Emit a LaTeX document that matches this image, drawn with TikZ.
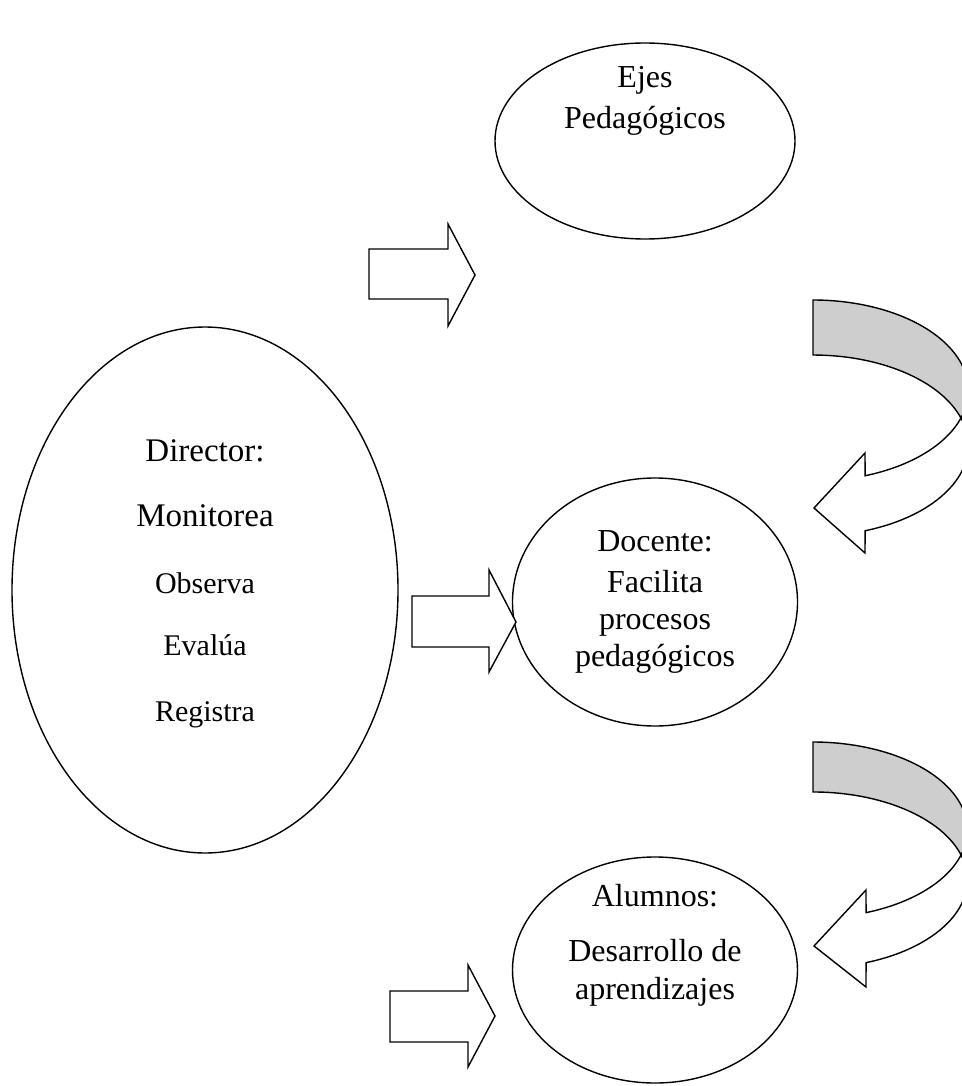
\documentclass[tikz,border=0pt]{standalone}
\usepackage{fontspec}
\setmainfont{Liberation Serif}
\usetikzlibrary{calc,shapes.geometric}
\definecolor{backgray}{RGB}{206,206,206}
\tikzset{
  oval/.style={draw, line width=1.4pt, ellipse, inner sep=0pt},
  blockarrow/.style={draw, line width=1.4pt, fill=white, line join=miter},
  curvback/.style={draw, line width=1.4pt, fill=backgray},
  curvfront/.style={draw, line width=1.4pt, fill=white},
  bigtxt/.style={font=\fontsize{32}{36}\selectfont, inner sep=0pt, anchor=base},
  dirbig/.style={font=\fontsize{33}{38}\selectfont, inner sep=0pt, anchor=base},
  dirsmall/.style={font=\fontsize{30}{34}\selectfont, inner sep=0pt, anchor=base}
}
\begin{document}
\begin{tikzpicture}[x=1pt,y=1pt]
\useasboundingbox (0,0) rectangle (961,-1086);
\fill[white] (0,0) rectangle (961,-1086);

% ellipses
\node[oval, minimum width=300pt, minimum height=196pt] (ejes) at (645,-141) {};
\node[oval, minimum width=386pt, minimum height=526pt] (dir) at (205,-590) {};
\node[oval, minimum width=285pt, minimum height=248pt] (doc) at (655,-602) {};
\node[oval, minimum width=285pt, minimum height=226pt] (alu) at (655,-970) {};

% texts
\node[bigtxt] (t1) at (645,-88) {Ejes};
\node[bigtxt] (t2) at (645,-129) {Pedagógicos};
\node[dirbig] (d1) at (205,-461) {Director:};
\node[dirbig] (d2) at (205,-526) {Monitorea};
\node[dirsmall] (d3) at (205,-593) {Observa};
\node[dirsmall] (d4) at (205,-655) {Evalúa};
\node[dirsmall] (d5) at (205,-721) {Registra};
\node[bigtxt] (c1) at (655,-551) {Docente:};
\node[bigtxt] (c2) at (655,-592) {Facilita};
\node[bigtxt] (c3) at (655,-629) {procesos};
\node[bigtxt] (c4) at (655,-666) {pedagógicos};
\node[bigtxt] (a1) at (655,-906) {Alumnos:};
\node[bigtxt] (a2) at (655,-961) {Desarrollo de};
\node[bigtxt] (a3) at (655,-999) {aprendizajes};

% straight block arrows
\draw[blockarrow] (369,-249) -- (448,-249) -- (448,-224) -- (475,-275) -- (448,-326) -- (448,-299) -- (369,-299) -- cycle;
\draw[blockarrow] (412,-596) -- (489,-596) -- (489,-570) -- (516,-622) -- (489,-672) -- (489,-647) -- (412,-647) -- cycle;
\draw[blockarrow] (390,-991) -- (468,-991) -- (468,-965) -- (495,-1016) -- (468,-1067) -- (468,-1042) -- (390,-1042) -- cycle;

% curved arrow 1
\coordinate (oA) at (813,-390.5);
\coordinate (oB) at (813,-445.5);
\draw[curvback] (813,-300) arc[start angle=90, end angle=-17.7, x radius=155.3, y radius=90.5]
  arc[start angle=17.7, end angle=90, x radius=155.3, y radius=90.5] -- cycle;
\draw[curvfront] ($(oA)+(-17.7:155.3 and 90.5)$) arc[start angle=-17.7, end angle=-70.4, x radius=155.3, y radius=90.5]
  -- (865,-453) -- (814,-508) -- (865,-553) -- ($(oB)+(-70.4:155.3 and 90.5)$)
  arc[start angle=-70.4, end angle=17.7, x radius=155.3, y radius=90.5] -- cycle;

% curved arrow 2
\coordinate (pA) at (813,-830);
\coordinate (pB) at (813,-880);
\draw[curvback] (813,-742) arc[start angle=90, end angle=-16.5, x radius=154.4, y radius=88]
  arc[start angle=16.5, end angle=90, x radius=154.4, y radius=88] -- cycle;
\draw[curvfront] ($(pA)+(-16.5:154.4 and 88)$) arc[start angle=-16.5, end angle=-69.9, x radius=154.4, y radius=88]
  -- (866,-890) -- (814,-946) -- (866,-987) -- ($(pB)+(-69.9:154.4 and 88)$)
  arc[start angle=-69.9, end angle=16.5, x radius=154.4, y radius=88] -- cycle;
\end{tikzpicture}
\end{document}
